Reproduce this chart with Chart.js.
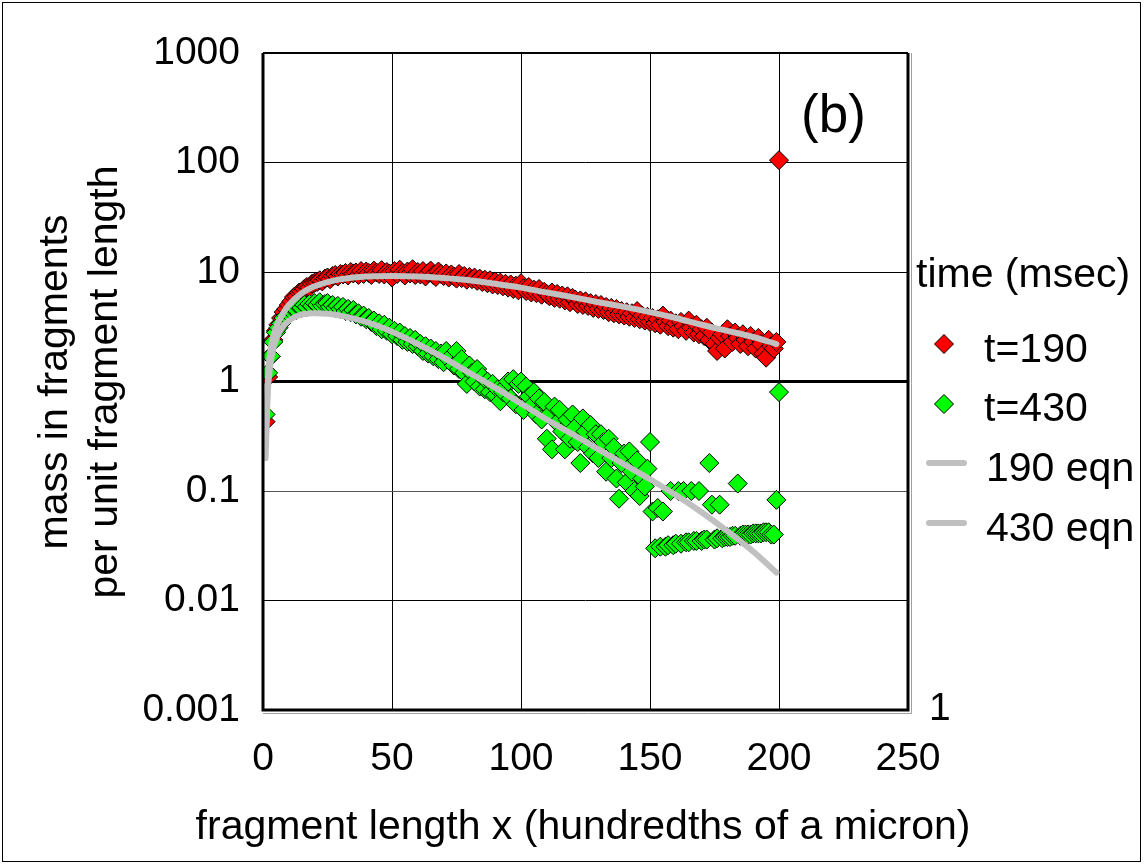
<!DOCTYPE html>
<html><head><meta charset="utf-8">
<script src="https://cdn.jsdelivr.net/npm/chart.js@4.4.0/dist/chart.umd.min.js"></script>
<style>html,body{margin:0;padding:0;background:#fff;}canvas{display:block;}</style>
</head><body>
<canvas id="c" width="1146" height="867"></canvas>
<script>
// fragment lengths (hundredths of a micron) of the binned data points: 1..199
const fragLengths = Array.from({length: 199}, (_, i) => i + 1);

// mass in fragments per unit fragment length, t = 190 msec
const mass190 = [
  0.43, 1.1, 1.7, 2.4, 2.9, 3.3, 3.8, 4.3, 4.6, 5.0,
  5.4, 5.9, 6.0, 6.5, 6.6, 7.0, 7.3, 7.2, 7.8, 8.0,
  8.1, 8.4, 8.2, 8.7, 8.9, 8.6, 9.2, 9.4, 9.1, 9.6,
  9.5, 9.8, 9.3, 10.0, 9.7, 9.9, 9.4, 10.2, 9.6, 10.1,
  9.8, 9.4, 10.3, 9.9, 9.6, 10.4, 9.5, 10.0, 9.7, 8.9,
  10.2, 9.6, 10.5, 9.8, 9.3, 10.1, 9.7, 10.6, 9.4, 10.0,
  9.5, 10.2, 9.1, 9.8, 10.3, 9.4, 9.0, 10.1, 9.6, 9.2,
  9.7, 8.9, 9.5, 9.1, 8.7, 9.6, 8.8, 9.2, 8.5, 9.0,
  8.6, 8.9, 8.3, 8.7, 8.1, 8.5, 7.9, 8.4, 7.7, 8.2,
  7.6, 8.0, 7.4, 7.8, 7.2, 7.7, 7.0, 7.5, 6.8, 7.9,
  7.1, 6.7, 7.3, 6.5, 6.9, 6.4, 7.0, 6.2, 6.6, 6.3,
  6.0, 6.5, 5.8, 6.3, 5.7, 6.1, 5.5, 6.0, 5.3, 5.8,
  5.6, 5.1, 5.5, 5.0, 5.4, 4.9, 5.2, 4.7, 5.1, 4.6,
  5.0, 4.5, 4.8, 4.3, 4.7, 4.2, 4.6, 4.1, 4.4, 4.0,
  4.3, 3.9, 4.2, 3.8, 4.4, 3.7, 4.0, 3.6, 3.9, 3.5,
  3.8, 3.4, 3.7, 3.3, 4.0, 3.5, 3.2, 3.6, 3.1, 3.4,
  3.0, 3.5, 3.2, 2.9, 3.6, 3.1, 2.8, 3.3, 2.7, 3.0,
  2.6, 3.1, 2.4, 2.8, 2.2, 1.9, 2.5, 2.7, 2.0, 3.0,
  2.6, 2.3, 2.8, 2.5, 2.2, 2.7, 2.4, 2.1, 2.6, 2.3,
  2.0, 2.5, 2.2, 1.8, 1.65, 2.4, 2.1, 2.0, 2.3
];

// mass in fragments per unit fragment length, t = 430 msec
const mass430 = [
  0.5, 1.2, 1.7, 2.3, 2.8, 3.1, 3.4, 3.8, 4.0, 4.2,
  4.4, 4.6, 4.5, 4.8, 4.7, 5.0, 4.8, 5.1, 4.9, 5.2,
  5.0, 5.3, 4.9, 5.1, 5.2, 4.8, 5.0, 4.7, 4.9, 4.6,
  4.8, 4.4, 4.6, 4.3, 4.5, 4.1, 4.2, 3.9, 4.0, 3.7,
  3.8, 3.5, 3.6, 3.2, 3.4, 3.0, 3.3, 2.9, 3.1, 2.7,
  2.9, 2.6, 2.8, 2.4, 2.6, 2.3, 2.5, 2.2, 2.4, 2.1,
  2.2, 1.9, 2.1, 1.8, 2.0, 1.7, 1.9, 1.6, 1.8, 1.5,
  1.9, 1.6, 1.7, 1.4, 1.9, 1.3, 1.6, 1.2, 0.95, 1.4,
  1.2, 1.0, 1.3, 0.9, 1.1, 0.85, 1.0, 0.8, 0.95, 0.75,
  0.85, 0.66, 0.8, 0.9, 1.0, 0.7, 1.05, 0.62, 0.95, 1.0,
  0.55, 0.9, 0.73, 0.6, 0.8, 0.5, 0.7, 0.45, 0.65, 0.3,
  0.5, 0.24, 0.59, 0.42, 0.55, 0.35, 0.24, 0.45, 0.3, 0.5,
  0.38, 0.28, 0.18, 0.46, 0.35, 0.25, 0.4, 0.22, 0.33, 0.2,
  0.33, 0.28, 0.15, 0.3, 0.2, 0.25, 0.13, 0.085, 0.18, 0.22,
  0.12, 0.23, 0.15, 0.1, 0.19, 0.09, 0.13, 0.11, 0.16, 0.28,
  0.065, 0.03, 0.07, 0.031, 0.065, 0.031, 0.032, 0.1, 0.032, 0.033,
  0.1, 0.033, 0.1, 0.034, 0.034, 0.1, 0.035, 0.035, 0.1, 0.035,
  0.036, 0.036, 0.18, 0.075, 0.036, 0.037, 0.075, 0.037, 0.038, 0.038,
  0.038, 0.039, 0.039, 0.117, 0.039, 0.04, 0.04, 0.04, 0.04, 0.041,
  0.041, 0.041, 0.041, 0.042, 0.042, 0.042, 0.04, 0.04, 0.083
];

// unbroken-length bin (x = 200)
const endLength = [200];
const endMass190 = [105];
const endMass430 = [0.8];

// fitted equation curves, read at these lengths
const eqnLengths = [1, 2, 3, 4, 5, 7, 10, 15, 20, 25, 30, 40, 50, 60, 70, 80, 90, 100, 110, 120, 130, 140, 150, 160, 170, 180, 190, 199];
const eqn190 = [0.25, 1.2, 2.0, 2.6, 3.1, 3.9, 5.0, 6.4, 7.4, 8.1, 8.6, 9.1, 9.2, 9.1, 8.8, 8.4, 7.8, 7.2, 6.5, 5.9, 5.3, 4.8, 4.3, 3.8, 3.3, 2.9, 2.55, 2.2];
const eqn430 = [0.2, 0.9, 1.5, 2.0, 2.4, 3.0, 3.6, 4.1, 4.2, 4.15, 4.0, 3.5, 2.85, 2.2, 1.65, 1.2, 0.88, 0.63, 0.45, 0.33, 0.24, 0.175, 0.128, 0.092, 0.064, 0.043, 0.028, 0.018];

// axis ticks
const yTickValues = [0.001, 0.01, 0.1, 1, 10, 100, 1000];
const yTickLabels = ['0.001', '0.01', '0.1', '1', '10', '100', '1000'];
const xTickValues = [0, 50, 100, 150, 200, 250];

const seriesNames = ['t=190', 't=430', '190 eqn', '430 eqn'];
const legendTitle = 'time (msec)';
const panelLabel = '(b)';
const xTitle = 'fragment length x (hundredths of a micron)';
const yTitle = ['mass in fragments', 'per unit fragment length'];
const rightAxisLabel = '1';

const FONT = '"Liberation Sans", Arial, sans-serif';
const RED = '#ff0000', GREEN = '#00ff00', GRAY = '#c0c0c0';

const pts = (xs, ys) => xs.map((x, i) => ({x: x, y: ys[i]}));

const decor = {
  id: 'decor',
  beforeDraw(chart) {
    const ctx = chart.ctx;
    ctx.save();
    ctx.fillStyle = '#fff';
    ctx.fillRect(0, 0, chart.width, chart.height);
    ctx.restore();
  },
  afterDraw(chart) {
    const ctx = chart.ctx;
    const a = chart.chartArea;
    ctx.save();
    // outer frame
    ctx.strokeStyle = '#000';
    ctx.lineWidth = 1;
    ctx.strokeRect(2.5, 2.5, 1138, 859);
    // plot border
    ctx.strokeStyle = '#a0a0a0';
    ctx.lineWidth = 1;
    ctx.beginPath();
    ctx.moveTo(a.left, a.bottom + 3.5); ctx.lineTo(a.right + 3.5, a.bottom + 3.5); ctx.lineTo(a.right + 3.5, a.top);
    ctx.stroke();
    ctx.strokeStyle = '#000';
    ctx.lineWidth = 3;
    ctx.beginPath();
    ctx.moveTo(a.left, a.top); ctx.lineTo(a.left, a.bottom); ctx.lineTo(a.right, a.bottom); ctx.lineTo(a.right, a.top);
    ctx.stroke();
    ctx.lineWidth = 2;
    ctx.beginPath();
    ctx.moveTo(a.left, a.top); ctx.lineTo(a.right, a.top);
    ctx.stroke();

    ctx.fillStyle = '#000';
    ctx.textBaseline = 'alphabetic';
    // panel label
    ctx.font = '53px ' + FONT;
    ctx.textAlign = 'left';
    ctx.fillText(panelLabel, 801, 132);
    // legend
    ctx.font = '41px ' + FONT;
    ctx.fillText(legendTitle, 916, 287);
    const rows = [362, 421, 481, 541];
    const diamond = (cx, cy, r, fill) => {
      ctx.beginPath();
      ctx.moveTo(cx, cy - r); ctx.lineTo(cx + r, cy); ctx.lineTo(cx, cy + r); ctx.lineTo(cx - r, cy); ctx.closePath();
      ctx.fillStyle = fill; ctx.fill();
      ctx.strokeStyle = '#000'; ctx.lineWidth = 1; ctx.stroke();
    };
    diamond(944, 344, 9.5, RED);
    diamond(944, 404, 9.5, GREEN);
    ctx.strokeStyle = GRAY; ctx.lineWidth = 6; ctx.lineCap = 'round';
    [463, 523].forEach(y => { ctx.beginPath(); ctx.moveTo(929, y); ctx.lineTo(964, y); ctx.stroke(); });
    ctx.fillStyle = '#000';
    ctx.fillText(seriesNames[0], 984, rows[0]);
    ctx.fillText(seriesNames[1], 984, rows[1]);
    ctx.fillText(seriesNames[2], 986, rows[2]);
    ctx.fillText(seriesNames[3], 986, rows[3]);
    // right axis label
    ctx.font = '39px ' + FONT;
    ctx.fillText(rightAxisLabel, 929, 720);
    // x title
    ctx.font = '41px ' + FONT;
    ctx.textAlign = 'center';
    ctx.fillText(xTitle, 583, 839);
    // y title
    ctx.save();
    ctx.translate(67, 382);
    ctx.rotate(-Math.PI / 2);
    ctx.fillText(yTitle[0], 0, 0);
    ctx.restore();
    ctx.save();
    ctx.translate(117, 382);
    ctx.rotate(-Math.PI / 2);
    ctx.fillText(yTitle[1], 0, 0);
    ctx.restore();
    ctx.restore();
  }
};

new Chart(document.getElementById('c'), {
  type: 'scatter',
  data: {
    datasets: [
      {label: seriesNames[2], data: pts(eqnLengths, eqn190), showLine: true, borderColor: GRAY, borderWidth: 6, pointRadius: 0, order: 0, borderCapStyle: 'round', borderJoinStyle: 'round', tension: 0.3},
      {label: seriesNames[3], data: pts(eqnLengths, eqn430), showLine: true, borderColor: GRAY, borderWidth: 6, pointRadius: 0, order: 0, borderCapStyle: 'round', borderJoinStyle: 'round', tension: 0.3},
      {label: seriesNames[1], data: pts(fragLengths, mass430).concat(pts(endLength, endMass430)), pointStyle: 'rectRot', pointRadius: 9.5, backgroundColor: GREEN, borderColor: '#000', borderWidth: 1, order: 1},
      {label: seriesNames[0], data: pts(fragLengths, mass190).concat(pts(endLength, endMass190)), pointStyle: 'rectRot', pointRadius: 9.5, backgroundColor: RED, borderColor: '#000', borderWidth: 1, order: 2}
    ]
  },
  options: {
    responsive: false,
    animation: false,
    devicePixelRatio: 1,
    layout: {padding: {top: 53, right: 238, bottom: 0, left: 0}},
    plugins: {legend: {display: false}, tooltip: {enabled: false}, title: {display: false}},
    scales: {
      x: {
        type: 'linear', min: 0, max: 250,
        afterFit: s => { s.height = 157; },
        afterBuildTicks: s => { s.ticks = xTickValues.map(v => ({value: v})); },
        border: {display: false},
        grid: {color: '#000', lineWidth: 1, drawTicks: false},
        ticks: {color: '#000', font: {family: FONT, size: 39}, padding: 26, maxRotation: 0}
      },
      y: {
        type: 'logarithmic', min: 0.001, max: 1000,
        afterFit: s => { s.width = 263; },
        afterBuildTicks: s => { s.ticks = yTickValues.map(v => ({value: v})); },
        border: {display: false},
        grid: {
          color: c => (c.tick && c.tick.value === 0.1) ? '#555' : '#000',
          lineWidth: c => (c.tick && c.tick.value === 1) ? 3 : 1,
          drawTicks: false
        },
        ticks: {
          color: '#000', font: {family: FONT, size: 39}, padding: 23,
          callback: v => { const i = yTickValues.indexOf(v); return i >= 0 ? yTickLabels[i] : ''; }
        }
      }
    }
  },
  plugins: [decor]
});
</script>
</body></html>
